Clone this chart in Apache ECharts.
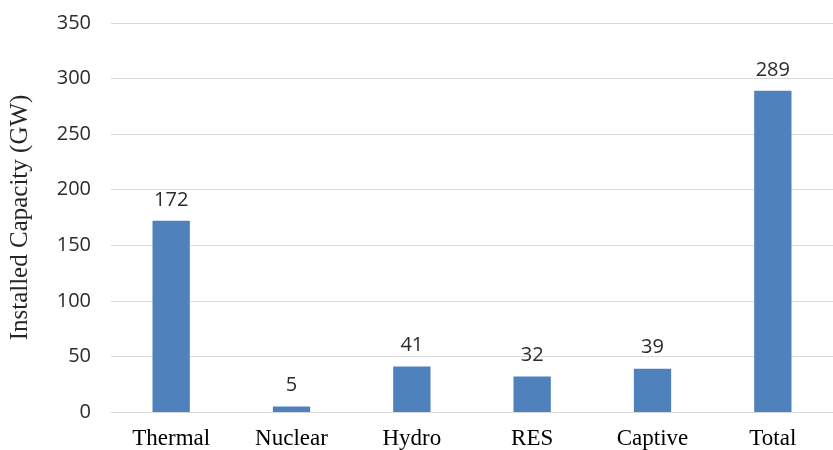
<!DOCTYPE html>
<html>
<head>
<meta charset="utf-8">
<script src="https://cdn.jsdelivr.net/npm/echarts@6/dist/echarts.min.js"></script>
<style>
  html, body { margin: 0; padding: 0; background: #fff; }
  #chart { width: 833px; height: 450px; }
</style>
</head>
<body>
<div id="chart"></div>
<script>
// Installed capacity by source (GW)
const categories = ['Thermal', 'Nuclear', 'Hydro', 'RES', 'Captive', 'Total'];
const capacity = [172, 5, 41, 32, 39, 289];
const axisTitle = 'Installed Capacity (GW)';

const chart = echarts.init(document.getElementById('chart'));
chart.setOption({
  animation: false,
  // plot area runs slightly past the right edge of the canvas
  grid: { left: 107.5, right: -12.5, top: 23, bottom: 37, containLabel: false },
  xAxis: {
    type: 'category',
    data: categories,
    axisLine: { lineStyle: { color: '#d9d9d9', width: 1 } },
    axisTick: { show: false },
    axisLabel: {
      color: '#000',
      fontFamily: 'Liberation Serif',
      fontSize: 23,
      margin: 15
    }
  },
  yAxis: {
    type: 'value',
    min: 0,
    max: 350,
    interval: 50,
    name: axisTitle,
    nameLocation: 'middle',
    nameGap: 78,
    nameTextStyle: { color: '#262626', fontFamily: 'Liberation Serif', fontSize: 25 },
    axisLine: { show: false },
    axisTick: { show: false },
    splitLine: { lineStyle: { color: '#d9d9d9', width: 1 } },
    axisLabel: {
      color: '#2b2b2b',
      fontFamily: 'Open Sans',
      fontSize: 20,
      margin: 20
    }
  },
  series: [{
    type: 'bar',
    data: capacity,
    barWidth: '31%',
    itemStyle: { color: '#4F81BD' },
    label: {
      show: true,
      position: 'top',
      distance: 11,
      color: '#2b2b2b',
      fontFamily: 'Open Sans',
      fontSize: 20
    }
  }]
});
</script>
</body>
</html>
